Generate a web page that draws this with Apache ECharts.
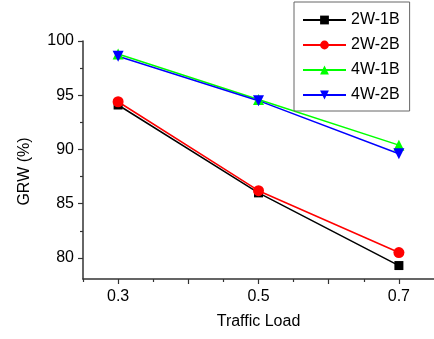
<!DOCTYPE html>
<html>
<head>
<meta charset="utf-8">
<script src="https://cdn.jsdelivr.net/npm/echarts@6/dist/echarts.min.js"></script>
<style>
  html, body { margin: 0; padding: 0; background: #fff; }
  #chart { width: 434px; height: 339px; }
</style>
</head>
<body>
<div id="chart"></div>
<script>
const loads = [0.3, 0.5, 0.7];
const seriesNames = ["2W-1B", "2W-2B", "4W-1B", "4W-2B"];
const w2b1 = [94.1, 86.0, 79.3];
const w2b2 = [94.4, 86.2, 80.5];
const w4b1 = [98.8, 94.6, 90.4];
const w4b2 = [98.6, 94.5, 89.6];
const xLabels = [0.3, 0.5, 0.7];
const xMajor = [0.3, 0.4, 0.5, 0.6, 0.7];
const xMinor = [0.25, 0.35, 0.45, 0.55, 0.65];
const yLabels = [80, 85, 90, 95, 100];
const yMinor = [82.5, 87.5, 92.5, 97.5];

const font = "Liberation Sans, Arial, sans-serif";
const chart = echarts.init(document.getElementById("chart"));

const pairs = (vals) => loads.map((x, i) => [x, vals[i]]);

const makeLine = (name, vals, color, symbol, size, rotate) => ({
  name: name,
  type: "line",
  xAxisIndex: 0,
  yAxisIndex: 0,
  data: pairs(vals),
  symbol: symbol,
  symbolSize: size,
  symbolRotate: rotate || 0,
  lineStyle: { color: color, width: 1.5 },
  itemStyle: { color: color },
  emphasis: { disabled: true },
  animation: false,
});

const axisLineStyle = { show: true, lineStyle: { color: "#333", width: 1.5 } };

const options = {
  animation: false,
  grid: { left: 83, right: -4, top: 41, bottom: 60 },
  legend: {
    orient: "vertical",
    left: 294,
    top: 2,
    padding: [10, 10, 8, 8],
    itemWidth: 43,
    itemHeight: 11,
    itemGap: 9,
    borderColor: "#666",
    borderWidth: 1,
    textStyle: { fontFamily: font, fontSize: 16, color: "#000" },
    data: seriesNames,
  },
  xAxis: [
    {
      type: "value",
      min: 0.25,
      max: 0.75,
      name: "Traffic Load",
      nameLocation: "middle",
      nameGap: 35,
      nameTextStyle: { fontFamily: font, fontSize: 16, color: "#000" },
      axisLine: axisLineStyle,
      axisTick: { show: true, length: 5, customValues: xMajor, lineStyle: { color: "#333", width: 1.2 } },
      axisLabel: { customValues: xLabels, margin: 10, fontFamily: font, fontSize: 16, color: "#000" },
      splitLine: { show: false },
    },
    {
      type: "value",
      min: 0.25,
      max: 0.75,
      position: "bottom",
      axisLine: { show: false },
      axisTick: { show: true, length: 3, customValues: xMinor, lineStyle: { color: "#333", width: 1.2 } },
      axisLabel: { show: false },
      splitLine: { show: false },
    },
  ],
  yAxis: [
    {
      type: "value",
      min: 78.06,
      max: 100,
      name: "GRW (%)",
      nameLocation: "middle",
      nameGap: 50,
      nameTextStyle: { fontFamily: font, fontSize: 16, color: "#000", padding: [0, 23, 0, 0] },
      axisLine: axisLineStyle,
      axisTick: { show: true, length: 5, customValues: yLabels, lineStyle: { color: "#333", width: 1.2 } },
      axisLabel: { customValues: yLabels, margin: 9, fontFamily: font, fontSize: 16, color: "#000" },
      splitLine: { show: false },
    },
    {
      type: "value",
      min: 78.06,
      max: 100,
      position: "left",
      axisLine: { show: false },
      axisTick: { show: true, length: 3, customValues: yMinor, lineStyle: { color: "#333", width: 1.2 } },
      axisLabel: { show: false },
      splitLine: { show: false },
    },
  ],
  series: [
    makeLine(seriesNames[0], w2b1, "#000000", "rect", 9),
    makeLine(seriesNames[1], w2b2, "#ff0000", "circle", 11),
    makeLine(seriesNames[2], w4b1, "#00ff00", "triangle", 11),
    makeLine(seriesNames[3], w4b2, "#0000ff", "triangle", 11, 180),
  ],
};

chart.setOption(options);
window.addEventListener("resize", () => chart.resize());
</script>
</body>
</html>
